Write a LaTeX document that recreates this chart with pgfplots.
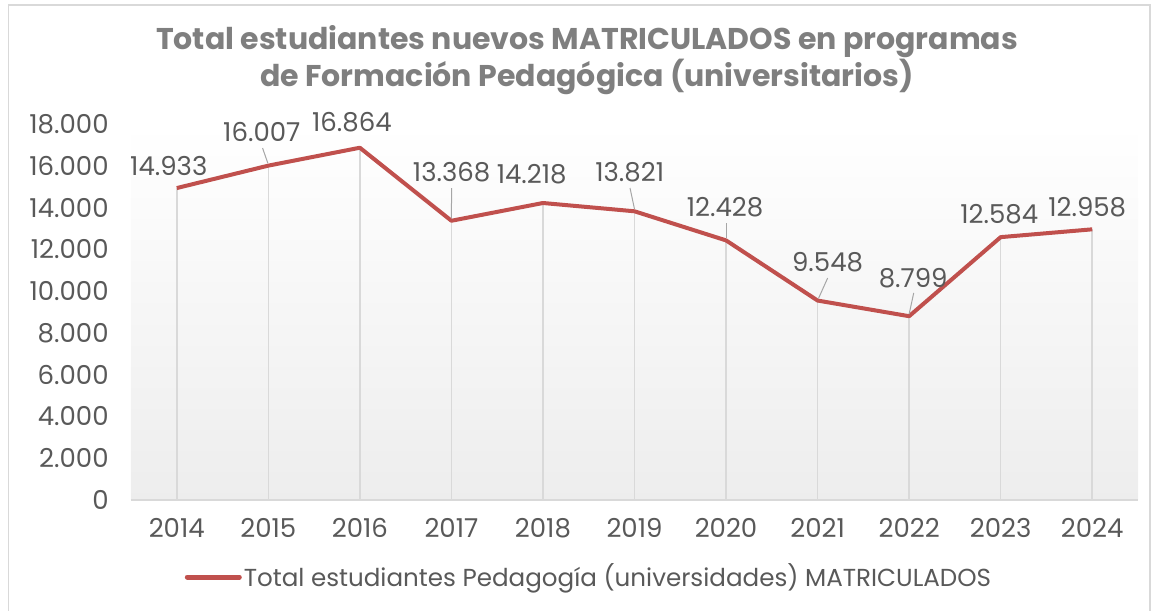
\documentclass[border=0pt]{standalone}
\usepackage{fontspec}
\setmainfont{Poppins}
\usepackage{pgfplots}
\pgfplotsset{compat=1.18}
\definecolor{linered}{HTML}{C0504D}
\definecolor{txtgray}{HTML}{595959}
\definecolor{titlegray}{HTML}{7F7F7F}
\definecolor{gridgray}{HTML}{D9D9D9}
\definecolor{leadgray}{HTML}{A6A6A6}
\pgfplotstableread{
year value
2014 14933
2015 16007
2016 16864
2017 13368
2018 14218
2019 13821
2020 12428
2021 9548
2022 8799
2023 12584
2024 12958
}\datatable
\begin{document}
\begin{tikzpicture}
\path[use as bounding box] (0,0) rectangle (579pt,305.5pt);
\draw[gridgray, line width=0.75pt] (4.25pt,0) -- (4.25pt,303pt) -- (575pt,303pt) -- (575pt,0);
\node[align=center, text=titlegray, font=\fontsize{15}{15.5}\selectfont\bfseries, inner sep=0pt]
  at (293.5pt,275.5pt) {Total estudiantes nuevos MATRICULADOS en programas\\de Formación Pedagógica (universitarios)};
\begin{axis}[
  at={(65.5pt,55.5pt)}, anchor=south west,
  scale only axis, width=503.5pt, height=188pt,
  xmin=2013.5, xmax=2024.5, ymin=0, ymax=18000,
  xtick={2014,2015,2016,2017,2018,2019,2020,2021,2022,2023,2024},
  xticklabels={2014,2015,2016,2017,2018,2019,2020,2021,2022,2023,2024},
  ytick={0,2000,4000,6000,8000,10000,12000,14000,16000,18000},
  /pgf/number format/.cd, 1000 sep={.}, assume math mode=true, /pgfplots/.cd,
  scaled y ticks=false,
  major tick length=0pt,
  axis line style={draw=none},
  tick label style={font=\fontsize{13}{15}\selectfont, text=txtgray, inner sep=0pt},
  y tick label style={anchor=east, xshift=-11pt},
  x tick label style={anchor=north, yshift=-9pt},
  axis background/.style={shade, top color=white, bottom color=white!93!black},
  clip=false,
  legend style={draw=none, fill=none, at={(axis description cs:0.4548,-0.2048)}, anchor=center,
    font=\fontsize{12.3}{14}\selectfont, text=txtgray, nodes={inner sep=0pt, inner xsep=1pt}},
  legend image code/.code={\draw[#1, line width=2.5pt, line cap=round] (0pt,0pt) -- (26pt,0pt);},
]
\addplot[gridgray, line width=0.75pt, ycomb, no marks, forget plot] table[x=year,y=value] {\datatable};
\draw[gridgray, line width=0.75pt] (rel axis cs:0,0) -- (rel axis cs:1,0);
\addplot[linered, line width=2pt, line join=round, no marks] table[x=year,y=value] {\datatable};
\addlegendentry{Total estudiantes Pedagogía (universidades) MATRICULADOS}
\begin{scope}[every node/.style={font=\fontsize{13}{15}\selectfont, text=txtgray, inner sep=0pt}]
\node at (axis cs:2013.913,15989) {14.933};
\node at (axis cs:2014.929,17617) {16.007};
\node at (axis cs:2015.913,18072) {16.864};
\node at (axis cs:2017.002,15716) {13.368};
\node at (axis cs:2017.877,15606) {14.218};
\node at (axis cs:2018.948,15716) {13.821};
\node at (axis cs:2019.989,14026) {12.428};
\node at (axis cs:2021.109,11370) {9.548};
\node at (axis cs:2022.044,10628) {8.799};
\node at (axis cs:2022.984,13691) {12.584};
\node at (axis cs:2023.945,14003) {12.958};
\end{scope}
\begin{scope}[leadgray, line width=0.5pt]
\draw (axis cs:2014.937,16851) -- (axis cs:2014.995,16120);
\draw (axis cs:2017.002,14936) -- (axis cs:2017.0,13480);
\draw (axis cs:2018.951,14936) -- (axis cs:2019.0,13930);
\draw (axis cs:2020.0,13260) -- (axis cs:2020.0,12540);
\draw (axis cs:2021.11,10628) -- (axis cs:2021.01,9650);
\draw (axis cs:2022.05,9910) -- (axis cs:2022.0,8900);
\end{scope}
\end{axis}
\end{tikzpicture}
\end{document}
